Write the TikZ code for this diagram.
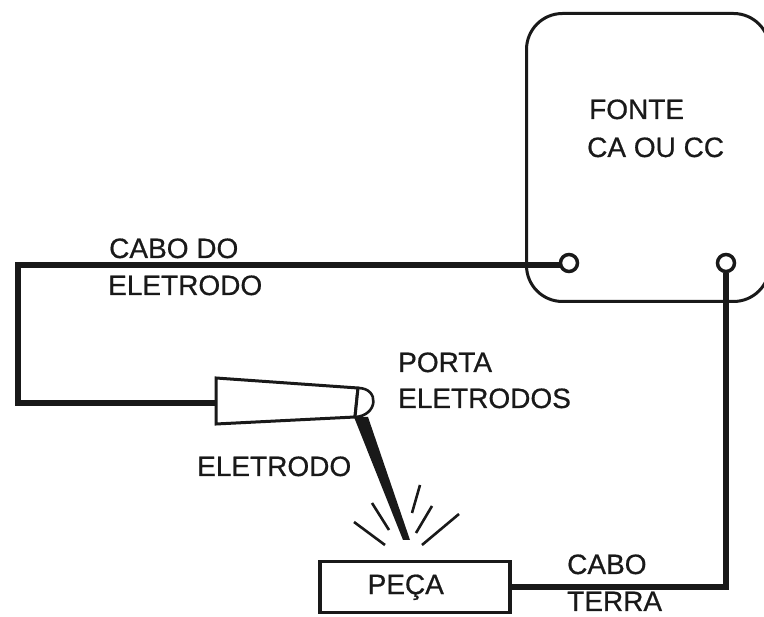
\documentclass[tikz,border=0pt]{standalone}
\usepackage{fontspec}
\setmainfont[FakeBold=0.6]{Liberation Sans}
\definecolor{ink}{gray}{0.1}
\tikzset{
  wire/.style={draw=ink,line width=6pt,line join=miter},
  outline/.style={draw=ink,line width=3pt},
  terminal/.style={circle,draw=ink,line width=3.5pt,fill=white,minimum size=17pt,inner sep=0pt},
  spark/.style={draw=ink,line width=2.6pt},
  lbl/.style={anchor=base west,inner sep=0pt,text=ink,font=\fontsize{28}{30}\selectfont},
  x=1pt,y=-1pt
}
\begin{document}
\begin{tikzpicture}
\useasboundingbox (0,0) rectangle (764,617);
\clip (0,0) rectangle (764,617);
\fill[white] (0,0) rectangle (764,617);
% power source
\node[outline,rounded corners=36pt,minimum width=243pt,minimum height=288pt,inner sep=0pt,anchor=north west] (fonte) at (525,12) {};
% terminals
\node[terminal] (t1) at (569,263) {};
\node[terminal] (t2) at (726,263) {};
% work piece
\node[draw=ink,line width=3.5pt,minimum width=190pt,minimum height=51pt,inner sep=0pt,anchor=north west,text=ink,font=\fontsize{28}{30}\selectfont] (peca) at (318,560) {\hspace*{-18pt}PEÇA};
% helper points
\coordinate (c1) at (18,265);
\coordinate (c2) at (18,403);
\coordinate (h) at (216,403);
% holder
\draw[outline,fill=white,line join=miter] (216,378) -- (358,388) -- (355,417) -- (216,424) -- cycle;
\draw[outline,line width=2.6pt,fill=white] (358,388) .. controls (380,388) and (378,416) .. (355,417);
\draw[outline] (358,388) -- (355,417);
% cables
\draw[wire] (t1.west) -- (t1.west |- c1) -- (c1) -- (c2) -- (h);
\draw[wire] (peca.east) -| (t2.south);
% electrode
\fill[ink] (354,417) -- (368,417) -- (410,540) -- (403,540) -- cycle;
% sparks
\draw[spark] (420,485) -- (412,513);
\draw[spark] (432,506) -- (416,533);
\draw[spark] (459,514) -- (422,545);
\draw[spark] (372,503) -- (389,530);
\draw[spark] (354,522) -- (385,545);
% labels
\node[lbl] (l1) at (109,258) {CABO DO};
\node[lbl] (l2) at (108,295) {ELETRODO};
\node[lbl] (l3) at (398,372) {PORTA};
\node[lbl] (l4) at (398,408) {ELETRODOS};
\node[lbl] (l5) at (197,476) {ELETRODO};
\node[lbl] (l6) at (567,574) {CABO};
\node[lbl] (l7) at (567,611) {TERRA};
\node[lbl] (l8) at (589,119) {FONTE};
\node[lbl] (l9) at (587,157) {CA OU CC};
\end{tikzpicture}
\end{document}
